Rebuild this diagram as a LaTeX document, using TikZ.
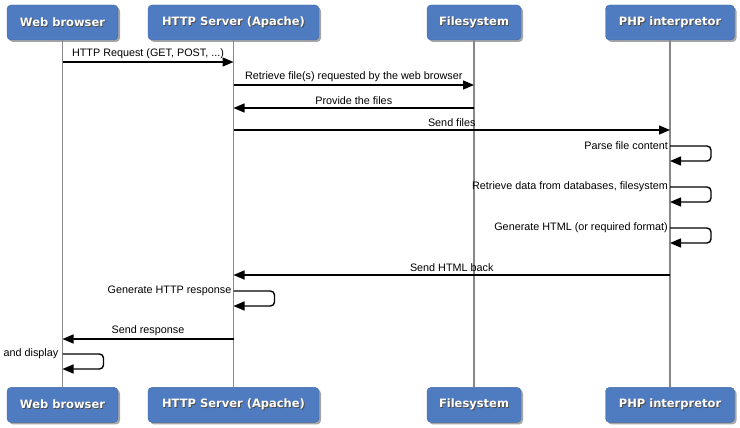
\documentclass[tikz,border=0pt]{standalone}
\usepackage{fontspec}
\setmainfont{Liberation Sans}
\newfontfamily\titlefont{DejaVu Sans}
\usetikzlibrary{arrows.meta,positioning,shadows}

\definecolor{actorblue}{RGB}{79,123,192}
\definecolor{lifegray}{RGB}{136,136,136}
\newcommand{\shadowed}[1]{\rlap{\kern0.9pt\raisebox{-0.9pt}{\color{black!70}#1}}#1}

\begin{document}
\begin{tikzpicture}[x=1pt,y=-1pt]
\tikzstyle{actor} = [rectangle, draw=actorblue!85!black, fill=actorblue, rounded corners=4pt, minimum height=35pt, text=white, font=\titlefont\bfseries\fontsize{11.5}{14}\selectfont, drop shadow={shadow xshift=2pt, shadow yshift=-2pt, fill=black, opacity=0.35}]
\tikzstyle{lifeline} = [draw=lifegray, line width=1.4pt]
\tikzstyle{msg} = [draw=black, line width=1.4pt, -{Triangle[length=11pt,width=9pt]}]
\tikzstyle{lbl} = [font=\fontsize{10.8}{12}\selectfont, inner sep=1.5pt]

\useasboundingbox (0,0) rectangle (740,428);

% Participants at the top
\node [actor, minimum width=111pt] at (62.5,22.5) (browser) {\shadowed{Web browser}};
\node [actor, minimum width=171pt] at (233.5,22.5) (httpd) {\shadowed{HTTP Server (Apache)}};
\node [actor, minimum width=94pt] at (474,22.5) (fs) {\shadowed{Filesystem}};
\node [actor, minimum width=129pt] at (670,22.5) (php) {\shadowed{PHP interpretor}};

% Participants at the bottom
\node [actor, minimum width=111pt, below=347pt of browser] (browserFoot) {\shadowed{Web browser}};
\node [actor, minimum width=171pt, below=347pt of httpd] (httpdFoot) {\shadowed{HTTP Server (Apache)}};
\node [actor, minimum width=94pt, below=347pt of fs] (fsFoot) {\shadowed{Filesystem}};
\node [actor, minimum width=129pt, below=347pt of php] (phpFoot) {\shadowed{PHP interpretor}};

% Lifelines
\draw [lifeline] (browser.south) -- (browserFoot.north);
\draw [lifeline] (httpd.south) -- (httpdFoot.north);
\draw [lifeline] (fs.south) -- (fsFoot.north);
\draw [lifeline] (php.south) -- (phpFoot.north);

% Message rows
\coordinate (request) at (0,62);
\coordinate (retrieve) at (0,85);
\coordinate (provide) at (0,108);
\coordinate (sendFiles) at (0,130);
\coordinate (parse) at (0,146);
\coordinate (fetchData) at (0,187);
\coordinate (generate) at (0,228);
\coordinate (sendHtml) at (0,275);
\coordinate (response) at (0,291);
\coordinate (sendResponse) at (0,339);
\coordinate (display) at (0,354);

% Messages
\draw [msg] (browser.south |- request) -- (httpd.south |- request) node [lbl, midway, above=1pt] {HTTP Request (GET, POST, ...)};
\draw [msg] (httpd.south |- retrieve) -- (fs.south |- retrieve) node [lbl, midway, above=1pt] {Retrieve file(s) requested by the web browser};
\draw [msg] (fs.south |- provide) -- (httpd.south |- provide) node [lbl, midway, above=1pt] {Provide the files};
\draw [msg] (httpd.south |- sendFiles) -- (php.south |- sendFiles) node [lbl, midway, above=1pt] {Send files};
\draw [msg] (php.south |- sendHtml) -- (httpd.south |- sendHtml) node [lbl, midway, above=1pt] {Send HTML back};
\draw [msg] (httpd.south |- sendResponse) -- (browser.south |- sendResponse) node [lbl, midway, above=1pt] {Send response};

% Self messages
\draw [msg, rounded corners=4pt] (php.south |- parse) node [lbl, anchor=east] {Parse file content} -- ++(41,0) -- ++(0,15) -- ++(-41,0);
\draw [msg, rounded corners=4pt] (php.south |- fetchData) node [lbl, anchor=east] {Retrieve data from databases, filesystem} -- ++(41,0) -- ++(0,15) -- ++(-41,0);
\draw [msg, rounded corners=4pt] (php.south |- generate) node [lbl, anchor=east] {Generate HTML (or required format)} -- ++(41,0) -- ++(0,15) -- ++(-41,0);
\draw [msg, rounded corners=4pt] (httpd.south |- response) node [lbl, anchor=east] {Generate HTTP response} -- ++(41,0) -- ++(0,15) -- ++(-41,0);
\draw [msg, rounded corners=4pt] (browser.south |- display) node [lbl, anchor=east, xshift=-2pt] {Parse and display} -- ++(41,0) -- ++(0,15) -- ++(-41,0);

\end{tikzpicture}
\end{document}
